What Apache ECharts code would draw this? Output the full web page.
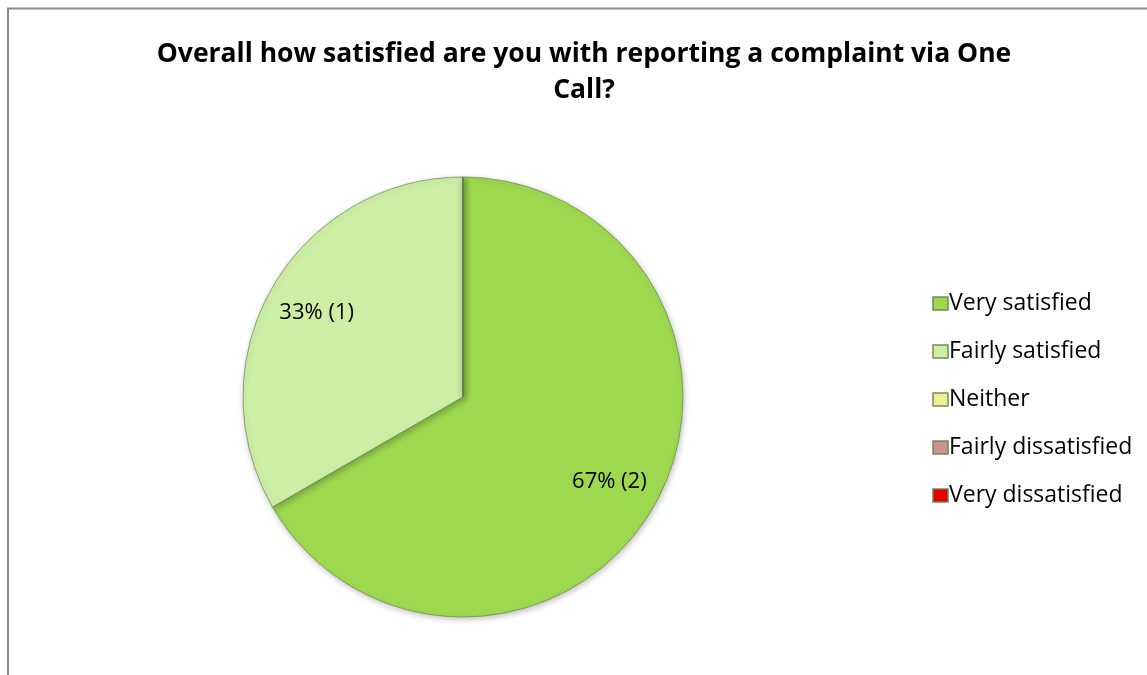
<!DOCTYPE html>
<html>
<head>
<meta charset="utf-8">
<script src="https://cdn.jsdelivr.net/npm/echarts@6/dist/echarts.min.js"></script>
<style>
html,body{margin:0;padding:0;background:#fff;}
#c{width:1147px;height:675px;}
</style>
</head>
<body>
<div id="c"></div>
<script>
const titleText = 'Overall how satisfied are you with reporting a complaint via One\nCall?';
const categories = ['Very satisfied','Fairly satisfied','Neither','Fairly dissatisfied','Very dissatisfied'];
const counts = [2, 1, 0, 0, 0];
const percents = [67, 33, 0, 0, 0];
const colors = ['#9dd84f','#cdeea5','#eeee96','#cc9090','#e60000'];

const chart = echarts.init(document.getElementById('c'));
const data = categories.map((name, i) => ({
  name, value: counts[i], pct: percents[i],
  itemStyle: {color: colors[i]}
}));
const fontFam = '"Open Sans", "Noto Sans", sans-serif';

chart.setOption({
  animation: false,
  title: {
    text: titleText,
    left: 579, top: 31, textAlign: 'center',
    textStyle: {fontFamily: fontFam, fontWeight: 'bold', fontSize: 26.5, lineHeight: 36, color: '#000'}
  },
  legend: {
    orient: 'vertical',
    left: 927, top: 287,
    itemWidth: 15, itemHeight: 13, itemGap: 25,
    icon: 'rect',
    data: categories,
    textStyle: {fontFamily: fontFam, fontSize: 23, lineHeight: 23, color: '#000', padding: [0,0,0,-4]}
  },
  graphic: [{
    type: 'polyline',
    shape: {points: [[8,675],[8,8.5],[1147,8.5]]},
    style: {stroke: '#8a8a8a', lineWidth: 2, fill: null},
    silent: true
  }],
  series: [{
    type: 'pie',
    center: [463, 397],
    radius: 220,
    startAngle: 90,
    clockwise: true,
    silent: true,
    label: {show: false},
    labelLine: {show: false},
    itemStyle: {borderColor: 'rgba(110,130,80,0.7)', borderWidth: 1, shadowBlur: 6, shadowColor: 'rgba(0,0,0,0.25)', shadowOffsetX: 1, shadowOffsetY: 2},
    data: data
  }, {
    type: 'pie',
    center: [463, 397],
    radius: [0, 332],
    startAngle: 90,
    clockwise: true,
    silent: true,
    legendHoverLink: false,
    itemStyle: {color: 'rgba(0,0,0,0)', borderWidth: 0},
    label: {
      show: true, position: 'inside',
      fontFamily: fontFam, fontSize: 22, color: '#000',
      formatter: p => p.value > 0 ? p.data.pct + '% (' + p.value + ')' : ''
    },
    labelLine: {show: false},
    emphasis: {disabled: true},
    data: categories.map((name, i) => ({name: name + ' ', value: counts[i], pct: percents[i]}))
  }]
});
</script>
</body>
</html>
